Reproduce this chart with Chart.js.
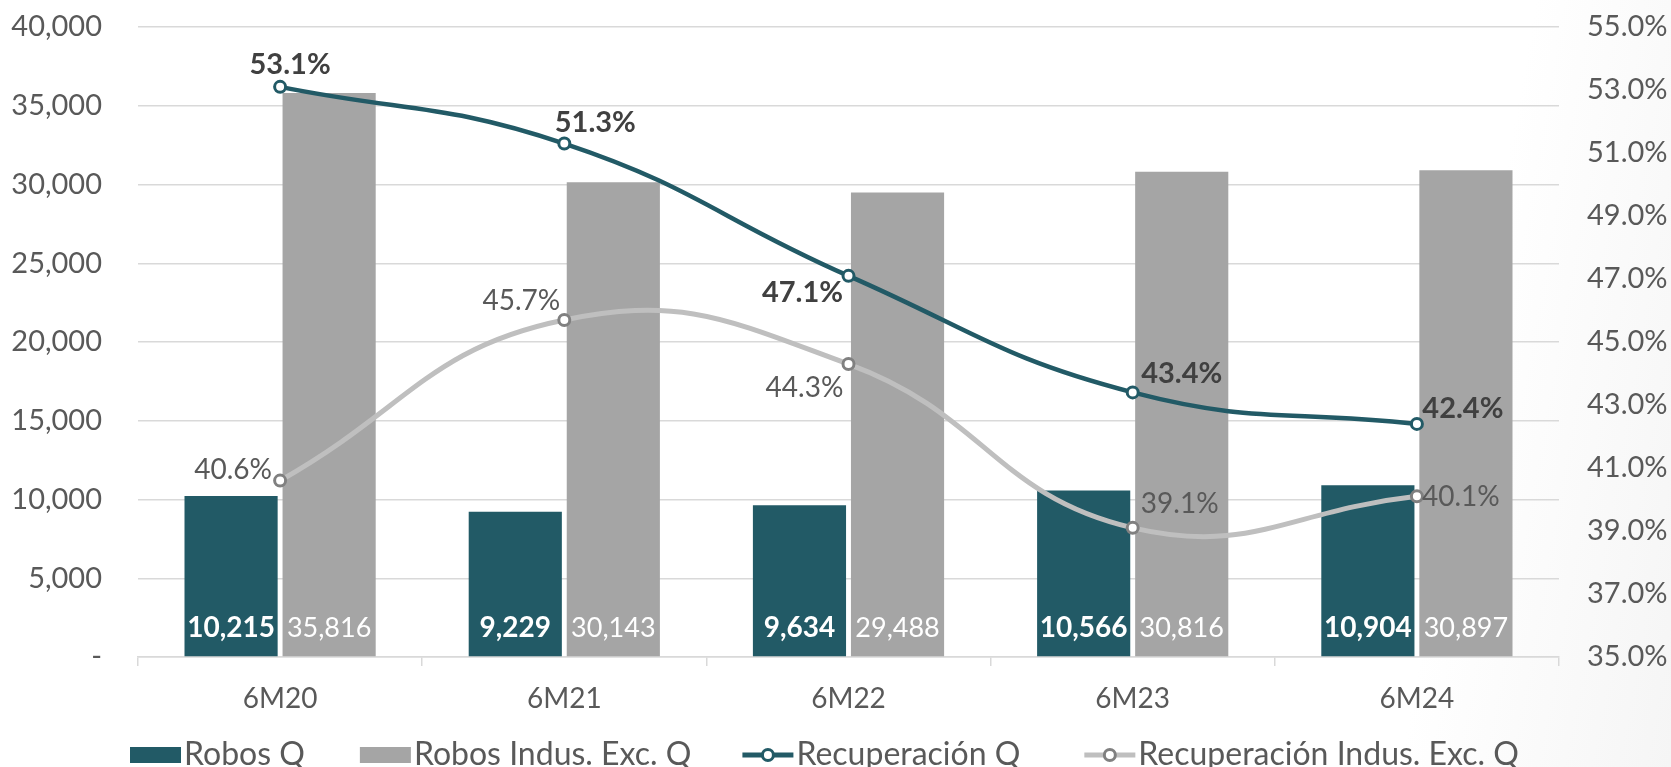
<!DOCTYPE html>
<html>
<head>
<meta charset="utf-8">
<script src="https://cdn.jsdelivr.net/npm/chart.js@4.4.1/dist/chart.umd.min.js"></script>
<style>
  html, body { margin: 0; padding: 0; }
  body { width: 1671px; height: 767px; overflow: hidden;
    background: linear-gradient(100deg, #ffffff 0%, #ffffff 85%, #f5f5f5 100%); }
  #wrap { position: relative; width: 1671px; height: 767px; }
</style>
</head>
<body>
<div id="wrap"><canvas id="c"></canvas></div>
<script>
const categories = ['6M20', '6M21', '6M22', '6M23', '6M24'];
const robosQ = [10215, 9229, 9634, 10566, 10904];
const robosIndus = [35816, 30143, 29488, 30816, 30897];
const recupQ = [53.1, 51.3, 47.1, 43.4, 42.4];
const recupIndus = [40.6, 45.7, 44.3, 39.1, 40.1];
const leftTicks = [0, 5000, 10000, 15000, 20000, 25000, 30000, 35000, 40000];
const rightTicks = [35, 37, 39, 41, 43, 45, 47, 49, 51, 53, 55];
const seriesNames = ['Robos Q', 'Robos Indus. Exc. Q', 'Recuperación Q', 'Recuperación Indus. Exc. Q'];

// label offsets (pixels) relative to each point
const recupQOffsets = [[10, -22], [31, -21], [-46, 17], [49, -19], [46, -15]];
const recupIndusOffsets = [[-47, -11], [-43, -19], [-44, 24], [47, -24], [44, 1]];
const legendGaps = [55, 51, 64, 0];

const TEAL = '#225A66';
const BARGRAY = '#A5A5A5';
const LINEGRAY = '#BFBFBF';
const POINTGRAY = '#808080';
const TXT = '#595959';
const FONT = 'Lato, "Open Sans", sans-serif';

const fmt = v => v.toLocaleString('en-US');

const labelPlugin = {
  id: 'customLabels',
  afterDraw(chart) {
    const ctx = chart.ctx;
    ctx.save();
    ctx.textBaseline = 'middle';
    ctx.textAlign = 'center';
    const m0 = chart.getDatasetMeta(2);
    const m1 = chart.getDatasetMeta(3);
    m0.data.forEach((el, i) => {
      ctx.font = 'bold 28px ' + FONT;
      ctx.fillStyle = '#ffffff';
      ctx.fillText(fmt(robosQ[i]), el.x, el.base - 28);
    });
    m1.data.forEach((el, i) => {
      ctx.font = '27px ' + FONT;
      ctx.fillStyle = '#ffffff';
      ctx.fillText(fmt(robosIndus[i]), el.x, el.base - 28);
    });
    const l0 = chart.getDatasetMeta(0);
    const l1 = chart.getDatasetMeta(1);
    l0.data.forEach((el, i) => {
      ctx.font = 'bold 29px ' + FONT;
      ctx.fillStyle = '#404040';
      ctx.fillText(recupQ[i].toFixed(1) + '%', el.x + recupQOffsets[i][0], el.y + recupQOffsets[i][1]);
    });
    l1.data.forEach((el, i) => {
      ctx.font = '28px ' + FONT;
      ctx.fillStyle = TXT;
      ctx.fillText(recupIndus[i].toFixed(1) + '%', el.x + recupIndusOffsets[i][0], el.y + recupIndusOffsets[i][1]);
    });

    // legend
    const ly = 755;
    let x = 130;
    ctx.textAlign = 'left';
    ctx.font = '32px ' + FONT;
    const items = [
      {type: 'box', color: TEAL, text: seriesNames[0]},
      {type: 'box', color: BARGRAY, text: seriesNames[1]},
      {type: 'line', color: TEAL, ring: TEAL, text: seriesNames[2]},
      {type: 'line', color: LINEGRAY, ring: POINTGRAY, text: seriesNames[3]}
    ];
    items.forEach((it, k) => {
      if (it.type === 'box') {
        ctx.fillStyle = it.color;
        ctx.fillRect(x, ly - 8, 51, 16);
      } else {
        ctx.strokeStyle = it.color;
        ctx.lineWidth = 5;
        ctx.beginPath();
        ctx.moveTo(x, ly); ctx.lineTo(x + 51, ly);
        ctx.stroke();
        ctx.beginPath();
        ctx.arc(x + 25.5, ly, 5.5, 0, Math.PI * 2);
        ctx.fillStyle = '#fff';
        ctx.fill();
        ctx.lineWidth = 3;
        ctx.strokeStyle = it.ring;
        ctx.stroke();
      }
      x += 54;
      ctx.fillStyle = TXT;
      ctx.fillText(it.text, x, ly);
      x += ctx.measureText(it.text).width + legendGaps[k];
    });
    ctx.restore();
  }
};

new Chart(document.getElementById('c'), {
  data: {
    labels: categories,
    datasets: [
      {
        type: 'line', label: seriesNames[2], data: recupQ, yAxisID: 'y1', order: 0,
        borderColor: TEAL, borderWidth: 4.5, tension: 0.45,
        pointRadius: 5.5, pointBorderWidth: 3, pointBackgroundColor: '#fff', pointBorderColor: TEAL
      },
      {
        type: 'line', label: seriesNames[3], data: recupIndus, yAxisID: 'y1', order: 1,
        borderColor: LINEGRAY, borderWidth: 5, tension: 0.45,
        pointRadius: 5.5, pointBorderWidth: 3, pointBackgroundColor: '#fff', pointBorderColor: POINTGRAY
      },
      {
        type: 'bar', label: seriesNames[0], data: robosQ, yAxisID: 'y', order: 2,
        backgroundColor: TEAL, categoryPercentage: 0.69, barPercentage: 0.95
      },
      {
        type: 'bar', label: seriesNames[1], data: robosIndus, yAxisID: 'y', order: 3,
        backgroundColor: BARGRAY, categoryPercentage: 0.69, barPercentage: 0.95
      }
    ]
  },
  options: {
    responsive: true,
    maintainAspectRatio: false,
    animation: false,
    layout: { padding: { top: 27, left: 0, right: 0, bottom: 0 } },
    plugins: { legend: { display: false }, tooltip: { enabled: false } },
    scales: {
      x: {
        type: 'category',
        offset: true,
        grid: { offset: true, drawOnChartArea: false, drawTicks: true, tickLength: 9, color: '#D9D9D9', lineWidth: 1.5 },
        border: { display: true, color: '#D9D9D9', width: 1.5 },
        ticks: { color: TXT, font: { family: FONT, size: 28 }, padding: 16 },
        afterFit(s) { s.height = 110; }
      },
      y: {
        position: 'left',
        min: 0, max: 40000,
        afterBuildTicks(s) { s.ticks = leftTicks.map(v => ({ value: v })); },
        grid: { color: '#D9D9D9', lineWidth: 1.5, drawTicks: false },
        border: { display: false },
        ticks: { color: TXT, font: { family: FONT, size: 29 }, padding: 36,
          callback: v => v === 0 ? '-' : fmt(v) },
        afterFit(s) { s.width = 138; s.paddingTop = 0; s.paddingBottom = 0; }
      },
      y1: {
        position: 'right',
        min: 35, max: 55,
        afterBuildTicks(s) { s.ticks = rightTicks.map(v => ({ value: v })); },
        grid: { display: false, drawTicks: false },
        border: { display: false },
        ticks: { color: TXT, font: { family: FONT, size: 29 }, padding: 28,
          callback: v => v.toFixed(1) + '%' },
        afterFit(s) { s.width = 112; s.paddingTop = 0; s.paddingBottom = 0; }
      }
    }
  },
  plugins: [labelPlugin]
});
</script>
</body>
</html>
